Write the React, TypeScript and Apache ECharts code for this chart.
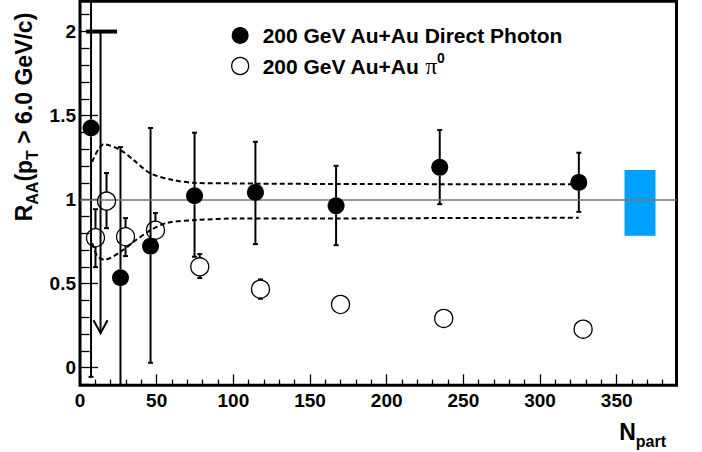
import { useEffect, useRef } from 'react';
import * as echarts from 'echarts';

const FONT = '"Liberation Sans", Arial, Helvetica, sans-serif';

const X_MIN = 0;
const X_MAX = 389;
const Y_MIN = -0.105;
const Y_MAX = 2.18;

const xMajorTicks = [0, 50, 100, 150, 200, 250, 300, 350];
const xMinorTicks = [10, 20, 30, 40, 60, 70, 80, 90, 110, 120, 130, 140, 160, 170, 180, 190, 210, 220, 230, 240, 260, 270, 280, 290, 310, 320, 330, 340, 360, 370, 380];
const yMajorTicks = [0, 0.5, 1, 1.5, 2];
const yMinorTicks = [-0.1, 0.1, 0.2, 0.3, 0.4, 0.6, 0.7, 0.8, 0.9, 1.1, 1.2, 1.3, 1.4, 1.6, 1.7, 1.8, 1.9, 2.1];

// Direct photon R_AA (filled circles)
const photonName = '200 GeV Au+Au Direct Photon';
const photonNpart = [7.2, 26.4, 46.0, 74.7, 114.4, 167.0, 234.6, 325.3];
const photonRaa = [1.426, 0.535, 0.723, 1.023, 1.043, 0.963, 1.192, 1.102];
const photonErrLow = [-0.055, -0.3, 0.029, 0.66, 0.735, 0.729, 0.973, 0.927];
const photonErrHigh = [2.5, 1.3125, 1.426, 1.398, 1.344, 1.201, 1.414, 1.279];

// Direct photon upper limit (arrow)
const limitNpart = [13.4];
const limitValue = [2.0];
const limitArrowTip = [0.205];

// pi0 R_AA (open circles)
const pi0Name = '200 GeV Au+Au π0';
const pi0Npart = [10.1, 17.3, 29.7, 49.2, 78.1, 117.7, 169.9, 237.2, 328.1];
const pi0Raa = [0.773, 0.991, 0.779, 0.818, 0.6, 0.467, 0.376, 0.293, 0.229];
const pi0ErrLow = [0.598, 0.83, 0.664, 0.716, 0.533, 0.41, 0.35, 0.27, 0.21];
const pi0ErrHigh = [0.943, 1.158, 0.89, 0.92, 0.676, 0.525, 0.4, 0.315, 0.25];

// N_coll uncertainty band (dashed)
const bandUpperNpart = [8.0, 15.5, 26.4, 35, 46, 61, 74.7, 104.7, 114.4, 167, 234.6, 325.3];
const bandUpper = [1.225, 1.33, 1.295, 1.235, 1.156, 1.116, 1.1, 1.096, 1.095, 1.093, 1.092, 1.091];
const bandLowerNpart = [8.0, 11.2, 16.0, 26.4, 35, 46, 57, 75, 104.7, 167, 234.6, 325.3];
const bandLower = [0.74, 0.665, 0.642, 0.689, 0.749, 0.818, 0.862, 0.878, 0.888, 0.888, 0.89, 0.892];

// global scale uncertainty box
const scaleBoxNpart = [355.1, 375.3];
const scaleBoxRaa = [0.785, 1.176];

const unity = 1;

function errorSeries(N: number[], v: number[], lo: number[], hi: number[], r: number) {
  return {
    type: 'custom',
    z: 3,
    silent: true,
    data: N.map((n, i) => [n, v[i], lo[i], hi[i]]),
    renderItem: (_p: any, api: any) => {
      const x = api.value(0);
      const y = api.value(1);
      const loV = api.value(2);
      const hiV = api.value(3);
      const loC = Math.max(loV, Y_MIN);
      const hiC = Math.min(hiV, Y_MAX);
      const c = api.coord([x, y]);
      const pl = api.coord([x, loC]);
      const ph = api.coord([x, hiC]);
      const style = { stroke: '#000', lineWidth: 2 };
      const children: any[] = [];
      if (c[1] - r > ph[1]) {
        children.push({ type: 'line', shape: { x1: c[0], y1: ph[1], x2: c[0], y2: c[1] - r }, style });
        if (hiV <= Y_MAX) children.push({ type: 'line', shape: { x1: c[0] - 2.5, y1: ph[1], x2: c[0] + 2.5, y2: ph[1] }, style });
      }
      if (pl[1] > c[1] + r) {
        children.push({ type: 'line', shape: { x1: c[0], y1: c[1] + r, x2: c[0], y2: pl[1] }, style });
        if (loV >= Y_MIN) children.push({ type: 'line', shape: { x1: c[0] - 2.5, y1: pl[1], x2: c[0] + 2.5, y2: pl[1] }, style });
      }
      return { type: 'group', children };
    },
  };
}

export default function App() {
  const ref = useRef<HTMLDivElement>(null);
  useEffect(() => {
    if (!ref.current) return;
    const chart = echarts.init(ref.current, undefined, { renderer: 'svg' });
    const tickLabel = { fontSize: 19, fontWeight: 'bold', color: '#000', fontFamily: FONT };
    const hiddenLine = { show: false, onZero: false };
    const option: any = {
      animation: false,
      backgroundColor: '#fff',
      grid: { left: 80, right: 25.5, top: 1.3, bottom: 66.7, show: true, borderColor: '#000', borderWidth: 3, backgroundColor: 'transparent' },
      legend: {
        orient: 'vertical',
        left: 226,
        top: 20,
        itemWidth: 35,
        itemHeight: 17,
        itemGap: 5,
        selectedMode: false,
        data: [
          { name: photonName, icon: 'circle', itemStyle: { color: '#000', opacity: 1 } },
          { name: pi0Name, icon: 'circle', itemStyle: { color: 'rgba(0,0,0,0)', borderColor: '#000', borderWidth: 1.3 } },
        ],
        formatter: (name: string) => (name === pi0Name ? '{b|200 GeV Au+Au }{p|π}{s|0}' : '{b|' + name + '}'),
        textStyle: {
          rich: {
            b: { fontSize: 21, fontWeight: 'bold', fontFamily: FONT, color: '#000' },
            p: { fontSize: 23, fontFamily: '"Liberation Serif", "DejaVu Serif", serif', color: '#000' },
            s: { fontSize: 14, fontWeight: 'bold', fontFamily: FONT, color: '#000', padding: [0, 0, 16, 0] },
          },
        },
      },
      xAxis: [
        {
          type: 'value', min: X_MIN, max: X_MAX, position: 'bottom',
          axisLine: hiddenLine, splitLine: { show: false },
          axisTick: { inside: true, length: 11, customValues: xMajorTicks, lineStyle: { color: '#000', width: 1.3 } },
          axisLabel: { ...tickLabel, margin: 6, customValues: xMajorTicks },
        },
        {
          type: 'value', min: X_MIN, max: X_MAX, position: 'bottom',
          axisLine: hiddenLine, splitLine: { show: false }, axisLabel: { show: false },
          axisTick: { inside: true, length: 5.7, customValues: xMinorTicks, lineStyle: { color: '#000', width: 1.3 } },
        },
      ],
      yAxis: [
        {
          type: 'value', min: Y_MIN, max: Y_MAX, position: 'left',
          axisLine: hiddenLine, splitLine: { show: false },
          axisTick: { inside: true, length: 18, customValues: yMajorTicks, lineStyle: { color: '#000', width: 1.3 } },
          axisLabel: { ...tickLabel, margin: 4, customValues: yMajorTicks },
        },
        {
          type: 'value', min: Y_MIN, max: Y_MAX, position: 'left',
          axisLine: hiddenLine, splitLine: { show: false }, axisLabel: { show: false },
          axisTick: { inside: true, length: 9.5, customValues: yMinorTicks, lineStyle: { color: '#000', width: 1.3 } },
        },
      ],
      graphic: [
        {
          type: 'text', x: 24, y: 117, rotation: Math.PI / 2,
          style: {
            text: '{r|R}{s|AA}{r|(p}{s|T}{r| > 6.0 GeV/c)}',
            align: 'center', verticalAlign: 'middle',
            rich: {
              r: { fontSize: 23, fontWeight: 'bold', fontFamily: FONT, fill: '#000', lineHeight: 26 },
              s: { fontSize: 16, fontWeight: 'bold', fontFamily: FONT, fill: '#000', lineHeight: 16, padding: [16, 0, 0, 0] },
            },
          },
        },
        {
          type: 'text', x: 666, y: 432,
          style: {
            text: '{n|N}{s|part}',
            align: 'right', verticalAlign: 'middle',
            rich: {
              n: { fontSize: 23, fontWeight: 'bold', fontFamily: FONT, fill: '#000', lineHeight: 26 },
              s: { fontSize: 16, fontWeight: 'bold', fontFamily: FONT, fill: '#000', lineHeight: 16, padding: [18, 0, 0, 0] },
            },
          },
        },
      ],
      series: [
        {
          type: 'custom',
          z: 1,
          silent: true,
          data: [[scaleBoxNpart[0], scaleBoxNpart[1], scaleBoxRaa[0], scaleBoxRaa[1]]],
          renderItem: (_p: any, api: any) => {
            const a = api.coord([api.value(0), api.value(3)]);
            const b = api.coord([api.value(1), api.value(2)]);
            return { type: 'rect', shape: { x: a[0], y: a[1], width: b[0] - a[0], height: b[1] - a[1] }, style: { fill: '#00a0ff' } };
          },
        },
        {
          type: 'line', z: 2, silent: true, showSymbol: false, smooth: 0.3,
          data: bandUpperNpart.map((n, i) => [n, bandUpper[i]]),
          lineStyle: { color: '#000', width: 2, type: [5, 3] },
          markLine: {
            silent: true, symbol: 'none', label: { show: false },
            lineStyle: { color: '#777', width: 1.5, type: 'solid' },
            data: [{ yAxis: unity }],
          },
        },
        {
          type: 'line', z: 2, silent: true, showSymbol: false, smooth: 0.3,
          data: bandLowerNpart.map((n, i) => [n, bandLower[i]]),
          lineStyle: { color: '#000', width: 2, type: [5, 3] },
        },
        errorSeries(photonNpart, photonRaa, photonErrLow, photonErrHigh, 8.5),
        errorSeries(pi0Npart, pi0Raa, pi0ErrLow, pi0ErrHigh, 9),
        {
          type: 'custom',
          z: 3,
          silent: true,
          data: limitNpart.map((n, i) => [n, limitValue[i], limitArrowTip[i]]),
          renderItem: (_p: any, api: any) => {
            const top = api.coord([api.value(0), api.value(1)]);
            const tip = api.coord([api.value(0), api.value(2)]);
            const style = { stroke: '#000', lineWidth: 2, fill: 'none' };
            return {
              type: 'group',
              children: [
                { type: 'rect', shape: { x: top[0] - 14.5, y: top[1] - 2, width: 31, height: 4 }, style: { fill: '#000' } },
                { type: 'line', shape: { x1: top[0], y1: top[1], x2: tip[0], y2: tip[1] }, style },
                { type: 'polyline', shape: { points: [[tip[0] - 7, tip[1] - 13], [tip[0], tip[1]], [tip[0] + 7, tip[1] - 13]] }, style },
              ],
            };
          },
        },
        {
          name: photonName, type: 'scatter', z: 5, symbol: 'circle', symbolSize: 17,
          itemStyle: { color: '#000', opacity: 1 },
          data: photonNpart.map((n, i) => [n, photonRaa[i]]),
        },
        {
          name: pi0Name, type: 'scatter', z: 5, symbol: 'circle', symbolSize: 18,
          itemStyle: { color: 'rgba(0,0,0,0)', borderColor: '#000', borderWidth: 1.3, opacity: 1 },
          data: pi0Npart.map((n, i) => [n, pi0Raa[i]]),
        },
      ],
    };
    chart.setOption(option);
    return () => chart.dispose();
  }, []);
  return <div ref={ref} style={{ position: 'absolute', left: 0, top: 0, width: 702, height: 452, background: '#fff' }} />;
}
